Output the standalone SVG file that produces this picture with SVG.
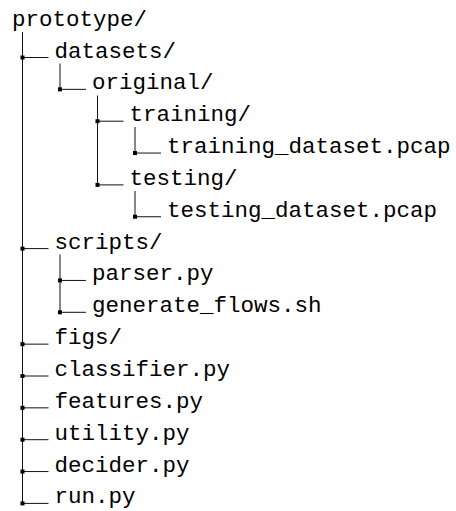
<svg xmlns="http://www.w3.org/2000/svg" width="456" height="511" viewBox="0 0 456 511">
<style>
text{font-family:"Liberation Mono","DejaVu Sans Mono",monospace;font-size:22.5px;fill:#000}
.l{stroke:#111;stroke-width:1;fill:none}
.d{fill:#000}
</style>
<rect width="456" height="511" fill="#fff"/>
<g id="connectors">
<path class="l" d="M22.5 32V503.4M60 63.5V89.35M97.5 95.5V184.9M135 127V153.05M135 191V216.75M60 254.5V312.3"/>
<path class="l" d="M22.5 57.5H48.5M60 89.35H86M97.5 121.2H123.5M135 153.05H161M97.5 184.9H123.5M135 216.75H161M22.5 248.6H48.5M60 280.45H86M60 312.3H86M22.5 344.15H48.5M22.5 376H48.5M22.5 407.85H48.5M22.5 439.7H48.5M22.5 471.55H48.5M22.5 503.4H48.5"/>
<g class="d">
<rect x="20.5" y="55.5" width="4" height="4"/>
<rect x="58" y="87.35" width="4" height="4"/>
<rect x="95.5" y="119.2" width="4" height="4"/>
<rect x="133" y="151.05" width="4" height="4"/>
<rect x="95.5" y="182.9" width="4" height="4"/>
<rect x="133" y="214.75" width="4" height="4"/>
<rect x="20.5" y="246.6" width="4" height="4"/>
<rect x="58" y="278.45" width="4" height="4"/>
<rect x="58" y="310.3" width="4" height="4"/>
<rect x="20.5" y="342.15" width="4" height="4"/>
<rect x="20.5" y="374" width="4" height="4"/>
<rect x="20.5" y="405.85" width="4" height="4"/>
<rect x="20.5" y="437.7" width="4" height="4"/>
<rect x="20.5" y="469.55" width="4" height="4"/>
<rect x="20.5" y="501.4" width="4" height="4"/>
</g>
</g>
<g id="prototype"><text x="12" y="26">prototype/</text></g>
<g id="datasets"><text x="54.5" y="57.5">datasets/</text></g>
<g id="original"><text x="92" y="89.35">original/</text></g>
<g id="training"><text x="129.5" y="121.2">training/</text></g>
<g id="training_dataset"><text x="167" y="153.05">training_dataset.pcap</text></g>
<g id="testing"><text x="129.5" y="184.9">testing/</text></g>
<g id="testing_dataset"><text x="167" y="216.75">testing_dataset.pcap</text></g>
<g id="scripts"><text x="54.5" y="248.6">scripts/</text></g>
<g id="parser"><text x="92" y="280.45">parser.py</text></g>
<g id="generate_flows"><text x="92" y="312.3">generate_flows.sh</text></g>
<g id="figs"><text x="54.5" y="344.15">figs/</text></g>
<g id="classifier"><text x="54.5" y="376">classifier.py</text></g>
<g id="features"><text x="54.5" y="407.85">features.py</text></g>
<g id="utility"><text x="54.5" y="439.7">utility.py</text></g>
<g id="decider"><text x="54.5" y="471.55">decider.py</text></g>
<g id="run"><text x="54.5" y="503.4">run.py</text></g>
</svg>
